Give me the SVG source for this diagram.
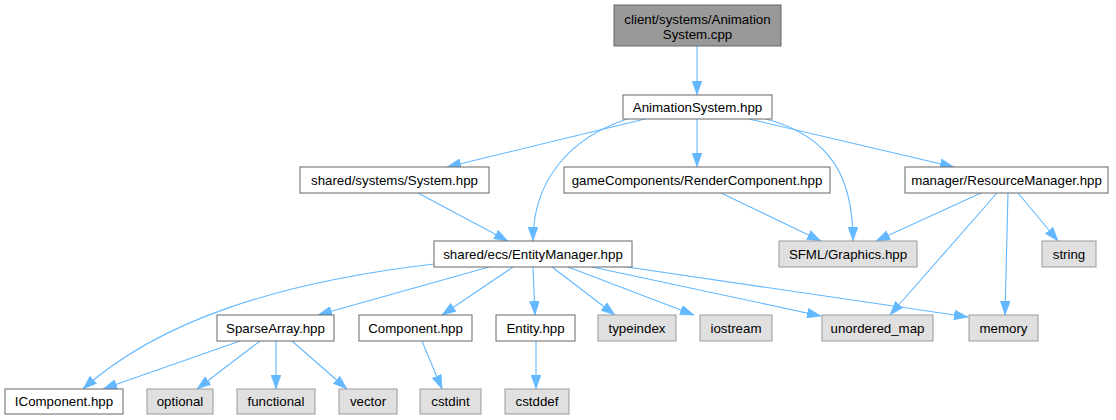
<svg xmlns="http://www.w3.org/2000/svg" width="1116" height="420" viewBox="0 0 1116 420">
<style>
.n rect{fill:#ffffff;stroke:#666666;stroke-width:1}
.g rect{fill:#e0e0e0;stroke:#999999;stroke-width:1}
.top rect{fill:#999999;stroke:#666666;stroke-width:1}
text{font-family:"Liberation Sans",Arial,Helvetica,sans-serif;font-size:13.3px;fill:#000000;text-anchor:middle}
#edges path{fill:none;stroke:#63b8ff;stroke-width:1.1;marker-end:url(#ah)}
</style>
<defs>
<marker id="ah" viewBox="0 0 14 10" refX="14" refY="5" markerWidth="14" markerHeight="10" markerUnits="userSpaceOnUse" orient="auto">
<path d="M0,0 L14,5 L0,10 z" fill="#63b8ff" stroke="#63b8ff" stroke-width="0.5"/>
</marker>
</defs>
<rect width="1116" height="420" fill="#ffffff"/>
<g id="edges">
<path d="M697,46 L697,95"/>
<path d="M645,119 L447,167"/>
<path d="M627,119 C570,138 533,180 533,241"/>
<path d="M697,119 L697,167"/>
<path d="M766,119 C833,137 853,180 853,241"/>
<path d="M749,119 L954,167"/>
<path d="M418,193 L508,241"/>
<path d="M721,193 L821,241"/>
<path d="M981,193 L876,241"/>
<path d="M997,193 L890,315"/>
<path d="M1008,193 L1005,315"/>
<path d="M1018,193 L1058,241"/>
<path d="M434,264 C280,282 160,320 83,389"/>
<path d="M489,267 L318,315"/>
<path d="M513,267 L442,315"/>
<path d="M533,267 L535,315"/>
<path d="M552,267 L615,315"/>
<path d="M568,267 L694,315"/>
<path d="M592,267 L821,316"/>
<path d="M627,267 L968,317"/>
<path d="M240,341 L103,389"/>
<path d="M260,341 L197,389"/>
<path d="M276,341 L276,389"/>
<path d="M292,341 L347,389"/>
<path d="M422,341 L442,389"/>
<path d="M536,341 L536,389"/>
</g>
<g id="node_anim_cpp" class="top"><rect x="614" y="5" width="167" height="41"/><text x="697.5" y="24">client/systems/Animation</text><text x="697.5" y="39">System.cpp</text></g>
<g id="node_anim_hpp" class="n"><rect x="623" y="95" width="149" height="24"/><text x="697.5" y="111.5">AnimationSystem.hpp</text></g>
<g id="node_system" class="n"><rect x="300" y="167" width="189" height="26"/><text x="394.5" y="184.5">shared/systems/System.hpp</text></g>
<g id="node_render" class="n"><rect x="564" y="167" width="266" height="26"/><text x="697" y="184.5">gameComponents/RenderComponent.hpp</text></g>
<g id="node_resmgr" class="n"><rect x="905" y="167" width="203" height="26"/><text x="1006.5" y="184.5">manager/ResourceManager.hpp</text></g>
<g id="node_entmgr" class="n"><rect x="434" y="241" width="198" height="26"/><text x="533" y="258.5">shared/ecs/EntityManager.hpp</text></g>
<g id="node_sfml" class="g"><rect x="779" y="241" width="138" height="26"/><text x="848" y="258.5">SFML/Graphics.hpp</text></g>
<g id="node_string" class="g"><rect x="1042" y="241" width="54" height="26"/><text x="1069" y="258.5">string</text></g>
<g id="node_sparse" class="n"><rect x="217" y="315" width="117" height="26"/><text x="275.5" y="332.5">SparseArray.hpp</text></g>
<g id="node_component" class="n"><rect x="359" y="315" width="113" height="26"/><text x="415.5" y="332.5">Component.hpp</text></g>
<g id="node_entity" class="n"><rect x="496" y="315" width="79" height="26"/><text x="535.5" y="332.5">Entity.hpp</text></g>
<g id="node_typeindex" class="g"><rect x="598" y="315" width="78" height="26"/><text x="637" y="332.5">typeindex</text></g>
<g id="node_iostream" class="g"><rect x="700" y="315" width="72" height="26"/><text x="736" y="332.5">iostream</text></g>
<g id="node_umap" class="g"><rect x="822" y="315" width="111" height="26"/><text x="877.5" y="332.5">unordered_map</text></g>
<g id="node_memory" class="g"><rect x="969" y="315" width="69" height="26"/><text x="1003.5" y="332.5">memory</text></g>
<g id="node_icomponent" class="n"><rect x="5" y="389" width="118" height="25"/><text x="64" y="406">IComponent.hpp</text></g>
<g id="node_optional" class="g"><rect x="147" y="389" width="66" height="25"/><text x="180" y="406">optional</text></g>
<g id="node_functional" class="g"><rect x="237" y="389" width="78" height="25"/><text x="276" y="406">functional</text></g>
<g id="node_vector" class="g"><rect x="339" y="389" width="58" height="25"/><text x="368" y="406">vector</text></g>
<g id="node_cstdint" class="g"><rect x="420" y="389" width="61" height="25"/><text x="450.5" y="406">cstdint</text></g>
<g id="node_cstddef" class="g"><rect x="505" y="389" width="64" height="25"/><text x="537" y="406">cstddef</text></g>
</svg>
